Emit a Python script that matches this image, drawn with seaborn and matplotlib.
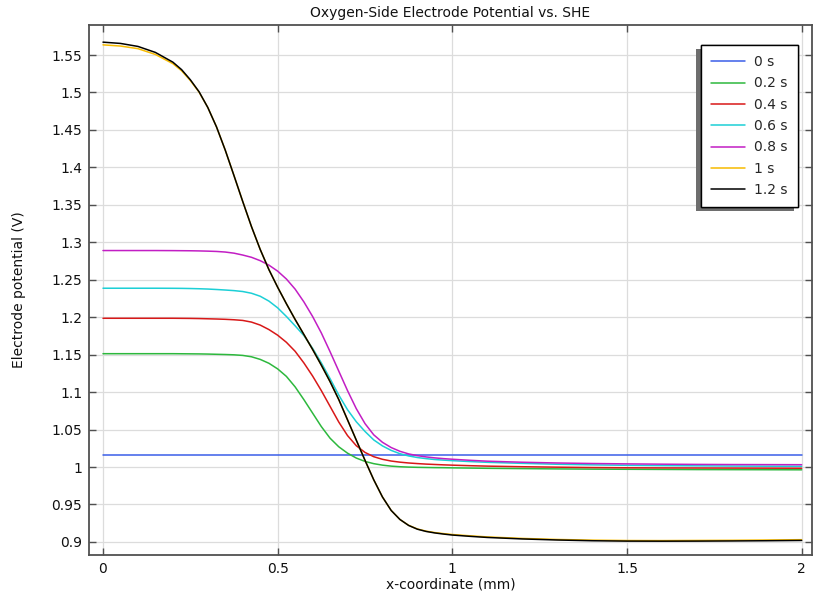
import numpy as np
import pandas as pd
import matplotlib
matplotlib.use("Agg")
import matplotlib.pyplot as plt
import matplotlib.patheffects as pe
from matplotlib.ticker import FixedLocator, FuncFormatter
import seaborn as sns

# ---- data ----
x_mm = [0, 0.05, 0.1, 0.15, 0.2, 0.225, 0.25, 0.275, 0.3, 0.325, 0.35, 0.375,
        0.4, 0.425, 0.45, 0.475, 0.5, 0.525, 0.55, 0.575, 0.6, 0.625, 0.65,
        0.675, 0.7, 0.725, 0.75, 0.775, 0.8, 0.825, 0.85, 0.875, 0.9, 0.925,
        0.95, 0.975, 1.0, 1.05, 1.1, 1.2, 1.3, 1.4, 1.5, 1.6, 1.7, 1.8, 1.9, 2.0]

t0 = [1.0162] * len(x_mm)

t02 = [1.1513, 1.1513, 1.1513, 1.1513, 1.1513, 1.1512, 1.1511, 1.1510, 1.1508,
       1.1505, 1.1502, 1.1498, 1.1490, 1.1472, 1.1437, 1.1385, 1.1310, 1.1210,
       1.1070, 1.0900, 1.0720, 1.0540, 1.0385, 1.0270, 1.0185, 1.0120, 1.0075,
       1.0045, 1.0025, 1.0012, 1.0004, 0.9999, 0.9996, 0.9994, 0.9992, 0.9991,
       0.9989, 0.9986, 0.9983, 0.9979, 0.9975, 0.9972, 0.9970, 0.9968, 0.9966,
       0.9965, 0.9964, 0.9963]

t04 = [1.1986, 1.1986, 1.1986, 1.1986, 1.1986, 1.1985, 1.1984, 1.1982, 1.1979,
       1.1976, 1.1972, 1.1966, 1.1957, 1.1935, 1.1895, 1.1835, 1.1760, 1.1665,
       1.1545, 1.1390, 1.1215, 1.1020, 1.0810, 1.0600, 1.0420, 1.0285, 1.0195,
       1.0138, 1.0103, 1.0080, 1.0065, 1.0054, 1.0046, 1.0039, 1.0034, 1.0029,
       1.0025, 1.0018, 1.0012, 1.0004, 0.9998, 0.9993, 0.9990, 0.9988, 0.9987,
       0.9986, 0.9985, 0.9984]

t06 = [1.2387, 1.2387, 1.2387, 1.2387, 1.2386, 1.2385, 1.2383, 1.2380, 1.2376,
       1.2370, 1.2363, 1.2355, 1.2343, 1.2320, 1.2280, 1.2215, 1.2125, 1.2010,
       1.1885, 1.1755, 1.1585, 1.1390, 1.1180, 1.0960, 1.0765, 1.0605, 1.0475,
       1.0362, 1.0282, 1.0222, 1.0178, 1.0148, 1.0127, 1.0112, 1.0100, 1.0092,
       1.0085, 1.0073, 1.0063, 1.0049, 1.0037, 1.0029, 1.0023, 1.0019, 1.0016,
       1.0013, 1.0011, 1.0010]

t08 = [1.2890, 1.2890, 1.2890, 1.2890, 1.2889, 1.2888, 1.2887, 1.2885, 1.2882,
       1.2878, 1.2870, 1.2855, 1.2830, 1.2800, 1.2755, 1.2695, 1.2615, 1.2510,
       1.2375, 1.2205, 1.2010, 1.1790, 1.1540, 1.1280, 1.1020, 1.0780, 1.0580,
       1.0430, 1.0330, 1.0260, 1.0210, 1.0175, 1.0152, 1.0135, 1.0122, 1.0112,
       1.0104, 1.0090, 1.0078, 1.0064, 1.0054, 1.0047, 1.0042, 1.0038, 1.0035,
       1.0033, 1.0032, 1.0031]

t10 = [1.5636, 1.5620, 1.5585, 1.5508, 1.5385, 1.5290, 1.5160, 1.5005, 1.4800,
       1.4540, 1.4230, 1.3890, 1.3545, 1.3210, 1.2905, 1.2635, 1.2400, 1.2180,
       1.1970, 1.1770, 1.1570, 1.1360, 1.1140, 1.0900, 1.0630, 1.0360, 1.0090,
       0.9830, 0.9600, 0.9420, 0.9300, 0.9222, 0.9173, 0.9144, 0.9125, 0.9111,
       0.9099, 0.9082, 0.9067, 0.9047, 0.9033, 0.9024, 0.9019, 0.9018, 0.9020,
       0.9022, 0.9026, 0.9030]

t12 = [1.5672, 1.5655, 1.5615, 1.5535, 1.5405, 1.5305, 1.5170, 1.5010, 1.4800,
       1.4540, 1.4230, 1.3890, 1.3545, 1.3210, 1.2905, 1.2635, 1.2400, 1.2180,
       1.1970, 1.1770, 1.1570, 1.1360, 1.1140, 1.0900, 1.0630, 1.0360, 1.0090,
       0.9830, 0.9600, 0.9420, 0.9300, 0.9220, 0.9170, 0.9140, 0.9120, 0.9105,
       0.9092, 0.9075, 0.9060, 0.9040, 0.9026, 0.9016, 0.9011, 0.9010, 0.9011,
       0.9013, 0.9016, 0.9020]

series_labels = ["0 s", "0.2 s", "0.4 s", "0.6 s", "0.8 s", "1 s", "1.2 s"]
series_values = [t0, t02, t04, t06, t08, t10, t12]
colors = ["#3a5ee8", "#2db83d", "#d81818", "#1ccfd6", "#c21ec4", "#f7bb00", "#000000"]

x_ticks = [0, 0.5, 1, 1.5, 2]
y_ticks = [0.9, 0.95, 1.0, 1.05, 1.1, 1.15, 1.2, 1.25, 1.3, 1.35, 1.4, 1.45, 1.5, 1.55]

df = pd.DataFrame({
    "x": np.tile(x_mm, len(series_labels)),
    "V": np.concatenate(series_values),
    "t": np.repeat(series_labels, len(x_mm)),
})

sns.set_theme(style="white")
plt.rcParams["font.family"] = ["DejaVu Sans"]

fig = plt.figure(figsize=(8.13, 5.97), dpi=100)
ax = fig.add_axes([0.1095, 0.0704, 0.889, 0.8876])

sns.lineplot(data=df, x="x", y="V", hue="t", hue_order=series_labels,
             palette=dict(zip(series_labels, colors)), linewidth=1.1,
             errorbar=None, sort=True, ax=ax)

ax.set_xlim(-0.04, 2.029)
ax.set_ylim(0.8826, 1.590)
ax.xaxis.set_major_locator(FixedLocator(x_ticks))
ax.yaxis.set_major_locator(FixedLocator(y_ticks))
fmt = FuncFormatter(lambda v, p: ("%g" % round(v, 3)))
ax.xaxis.set_major_formatter(fmt)
ax.yaxis.set_major_formatter(fmt)

ax.grid(True, color="#dcdcdc", linewidth=0.9)
ax.set_axisbelow(True)
for s in ax.spines.values():
    s.set_color("#505050")
    s.set_linewidth(1.3)
ax.tick_params(direction="in", length=5, width=1, color="#505050",
               top=True, right=True, bottom=True, left=True,
               labelsize=10, labelcolor="#111111", pad=5)

ax.set_xlabel("x-coordinate (mm)", fontsize=10, labelpad=1, color="#111111")
ax.set_ylabel("Electrode potential (V)", fontsize=10, labelpad=18, color="#111111")
ax.set_title("Oxygen-Side Electrode Potential vs. SHE", fontsize=10, pad=6, color="#111111")

leg = ax.legend(loc="upper right", bbox_to_anchor=(0.9806, 0.9623), borderaxespad=0,
                frameon=True, fancybox=False, fontsize=10, handlelength=2.5,
                handletextpad=0.65, labelspacing=0.53, borderpad=0.72, title=None)
frame = leg.get_frame()
frame.set_edgecolor("#000000")
frame.set_linewidth(1.0)
frame.set_facecolor("white")
frame.set_alpha(1)
frame.set_path_effects([pe.withSimplePatchShadow(offset=(-3, -3), shadow_rgbFace="#6e6e6e",
                                                 alpha=1.0), pe.Normal()])

fig.savefig("out.png", dpi=100)
